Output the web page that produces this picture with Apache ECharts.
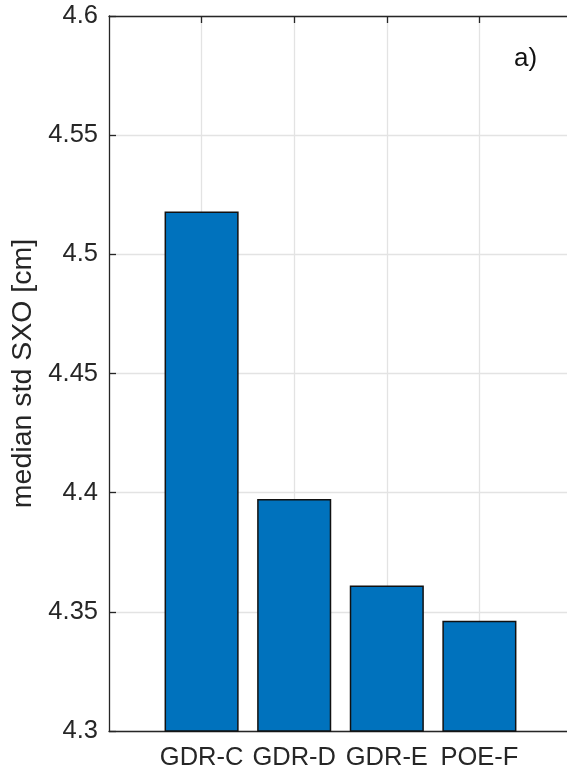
<!DOCTYPE html>
<html>
<head>
<meta charset="utf-8">
<script src="https://cdn.jsdelivr.net/npm/echarts@6/dist/echarts.min.js"></script>
<style>html,body{margin:0;padding:0;background:#fff;}#c{width:567px;height:772px;}</style>
</head>
<body>
<div id="c"></div>
<script>
const categories = ['', 'GDR-C', 'GDR-D', 'GDR-E', 'POE-F', ''];
const values = [null, 4.518, 4.3973, 4.361, 4.3463, null];
const yTicks = { min: 4.3, max: 4.6, step: 0.05 };
const yTitle = 'median std SXO [cm]';
const panelLabel = 'a)';

const FONT = '"Liberation Sans", Arial, sans-serif';
const AX = '#262626';
const chart = echarts.init(document.getElementById('c'));
const realIdx = (i) => i >= 1 && i <= 4;
const xBase = {
  type: 'category', data: categories, boundaryGap: false,
  axisLine: { show: true, lineStyle: { color: AX, width: 1.3 } },
  axisTick: { show: true, inside: true, length: 7, interval: (i) => realIdx(i), lineStyle: { color: AX, width: 1.3 } },
};
chart.setOption({
  animation: false,
  backgroundColor: '#fff',
  grid: { left: 109, top: 16, width: 463, height: 715, containLabel: false, outerBoundsMode: 'none' },
  xAxis: [
    Object.assign({}, xBase, {
      position: 'bottom',
      axisLabel: { show: true, interval: 0, color: AX, fontFamily: FONT, fontSize: 25.5, margin: 14,
        formatter: (v) => v },
      splitLine: { show: true, interval: (i) => realIdx(i), lineStyle: { color: '#e3e3e3', width: 1.3 } }
    }),
    Object.assign({}, xBase, {
      position: 'top',
      axisLabel: { show: false },
      splitLine: { show: false }
    })
  ],
  yAxis: {
    type: 'value', min: yTicks.min, max: yTicks.max, interval: yTicks.step,
    name: yTitle, nameLocation: 'middle', nameGap: 70, nameRotate: 90,
    nameTextStyle: { color: AX, fontFamily: FONT, fontSize: 28.5 },
    axisLine: { show: true, lineStyle: { color: AX, width: 1.3 } },
    axisTick: { show: true, inside: true, length: 7, lineStyle: { color: AX, width: 1.3 } },
    axisLabel: { color: AX, fontFamily: FONT, fontSize: 25.5, margin: 11,
      formatter: (v) => String(parseFloat(v.toFixed(2))) },
    splitLine: { show: true, lineStyle: { color: '#e3e3e3', width: 1.3 } }
  },
  series: [{
    type: 'bar', data: values, barWidth: '80%',
    itemStyle: { color: '#0072BD', borderColor: '#111', borderWidth: 1.5 }
  }],
  graphic: [{
    type: 'text', left: 514, top: 46,
    style: { text: panelLabel, fill: '#111', font: '26px ' + FONT }
  }]
});
</script>
</body>
</html>
